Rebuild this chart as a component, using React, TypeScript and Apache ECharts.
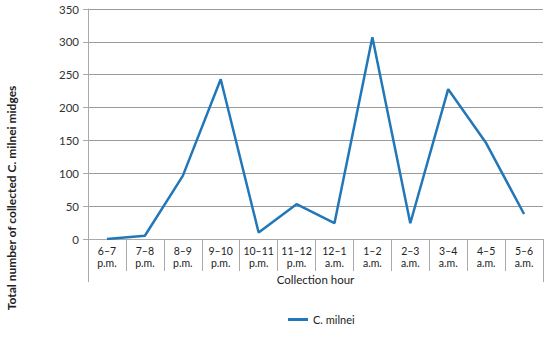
import React, { useEffect, useRef } from "react";
import * as echarts from "echarts";

const categories = [
  "6–7\np.m.", "7–8\np.m.", "8–9\np.m.", "9–10\np.m.", "10–11\np.m.", "11–12\np.m.",
  "12–1\na.m.", "1–2\na.m.", "2–3\na.m.", "3–4\na.m.", "4–5\na.m.", "5–6\na.m.",
];
const milneiValues = [0, 5, 96, 243, 10, 53, 24, 307, 24, 228, 146, 38];
const seriesName = "C. milnei";
const yTitle = "Total number of collected C. milnei midges";
const xTitle = "Collection hour";

export default function App() {
  const ref = useRef<HTMLDivElement>(null);
  useEffect(() => {
    if (!ref.current) return;
    const chart = echarts.init(ref.current, null, { renderer: "svg" });
    const font = "Lato, 'Open Sans', sans-serif";
    chart.setOption({
      animation: false,
      textStyle: { fontFamily: font },
      grid: { left: 88, right: 7, top: 9, bottom: 112, containLabel: false },
      legend: {
        top: 309,
        left: 283,
        itemWidth: 20,
        itemHeight: 3,
        itemGap: 6,
        icon: "rect",
        textStyle: { fontSize: 11, color: "#222", fontFamily: font },
        data: [seriesName],
      },
      xAxis: {
        type: "category",
        data: categories,
        boundaryGap: true,
        name: xTitle,
        nameLocation: "middle",
        nameGap: 34,
        nameTextStyle: { fontSize: 11.5, color: "#222", fontFamily: font },
        axisLine: { lineStyle: { color: "#aaa", width: 1 } },
        axisTick: { show: true, length: 32, lineStyle: { color: "#aaa" } },
        axisLabel: { fontSize: 10.5, color: "#222", lineHeight: 12, margin: 6, interval: 0 },
      },
      yAxis: {
        type: "value",
        min: 0,
        max: 350,
        interval: 50,
        axisLine: { show: true, lineStyle: { color: "#aaa" } },
        axisTick: { show: true, length: 5, lineStyle: { color: "#aaa" } },
        axisLabel: { fontSize: 11.5, color: "#333", margin: 9 },
        splitLine: { lineStyle: { color: "#9a9a9a", width: 1 } },
      },
      graphic: [
        {
          type: "text",
          x: 11,
          y: 198,
          rotation: Math.PI / 2,
          style: {
            text: yTitle,
            fontSize: 12,
            fontWeight: "bold",
            fill: "#222",
            fontFamily: font,
            align: "center",
            verticalAlign: "middle",
          },
        },
        { type: "line", shape: { x1: 88.5, y1: 270, x2: 88.5, y2: 282 }, style: { stroke: "#aaa", lineWidth: 1 } },
        { type: "line", shape: { x1: 543.5, y1: 270, x2: 543.5, y2: 282 }, style: { stroke: "#aaa", lineWidth: 1 } },
      ],
      series: [
        {
          name: seriesName,
          type: "line",
          data: milneiValues,
          symbol: "none",
          lineStyle: { color: "#2277b8", width: 2.5 },
          itemStyle: { color: "#2277b8" },
        },
      ],
    });
    return () => chart.dispose();
  }, []);
  return (
    <div
      ref={ref}
      style={{ position: "absolute", left: 0, top: 0, width: 550, height: 351 }}
    />
  );
}
